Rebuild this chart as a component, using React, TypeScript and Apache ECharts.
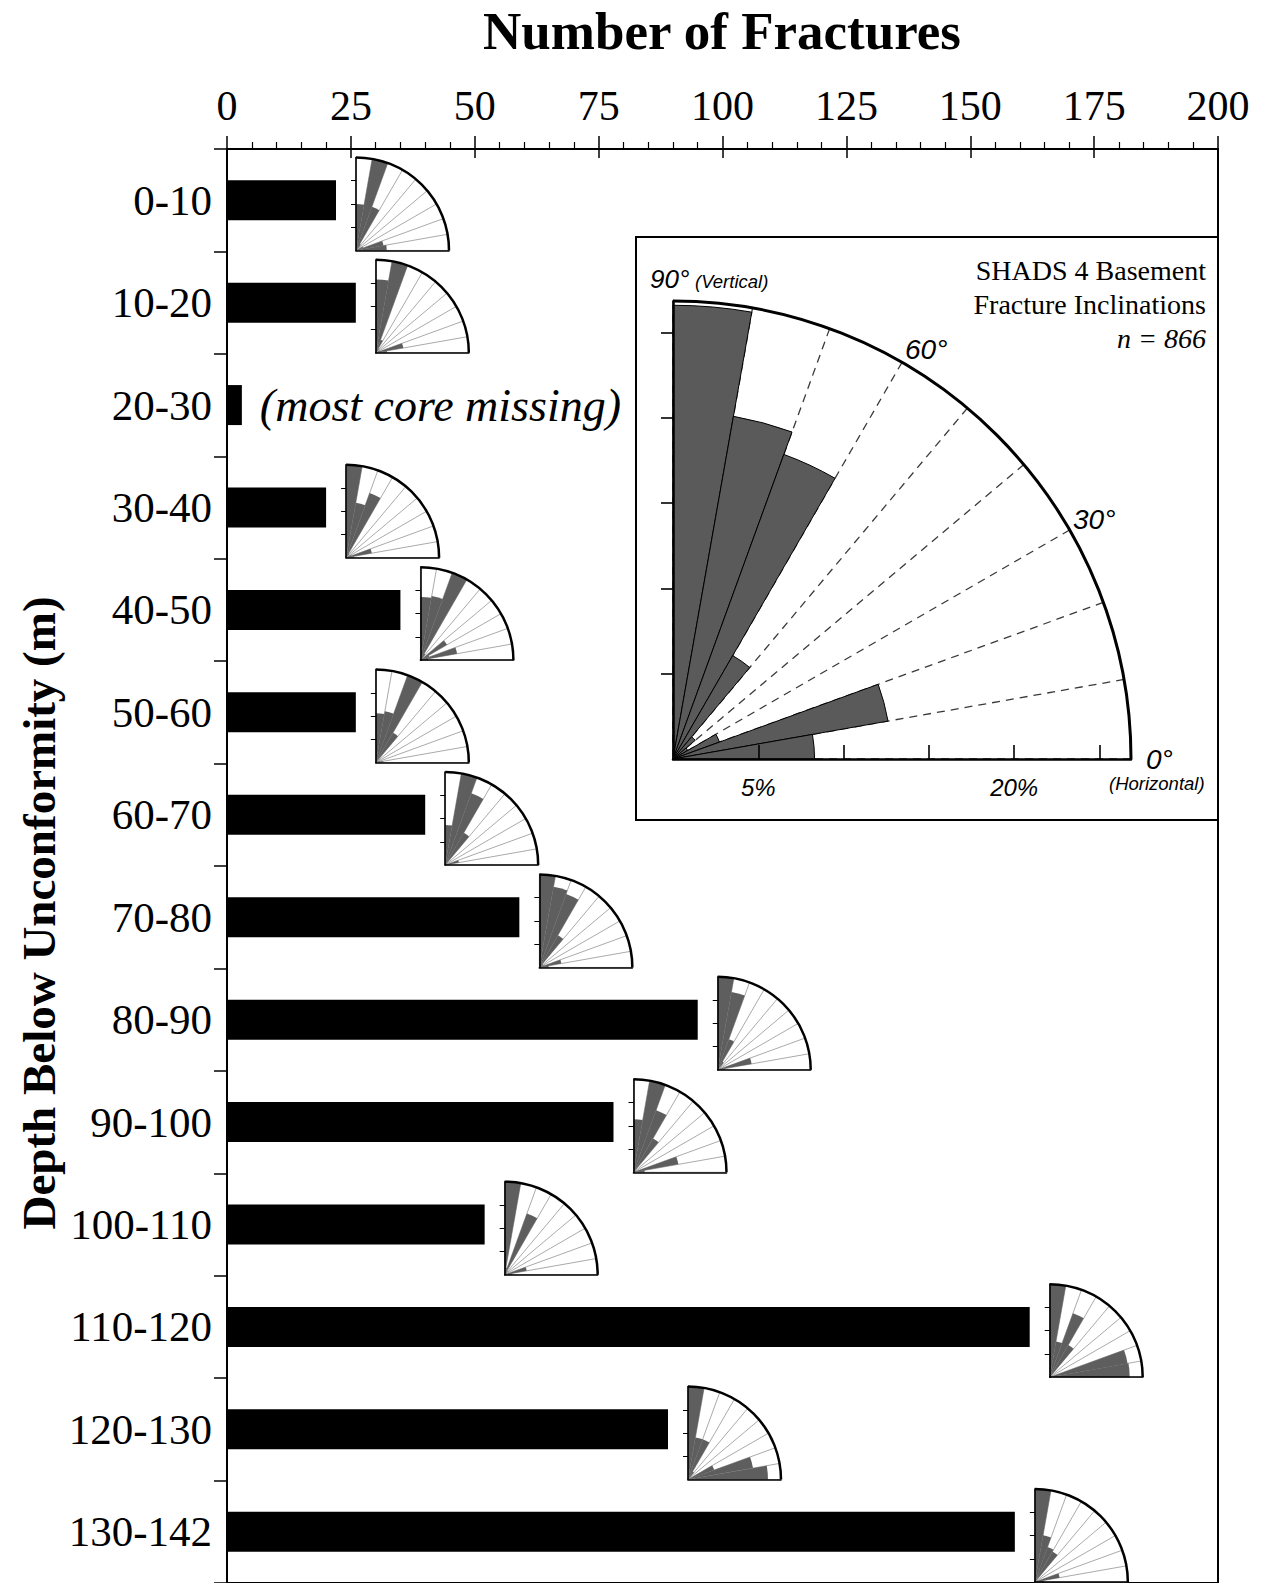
import React, { useEffect, useRef } from 'react';
import * as echarts from 'echarts';

const SERIF = '"Liberation Serif", "Times New Roman", serif';
const SANS = '"Liberation Sans", Arial, sans-serif';

// Fractures counted in each depth interval below the unconformity (m)
const depthIntervals = ['0-10', '10-20', '20-30', '30-40', '40-50', '50-60', '60-70', '70-80', '80-90', '90-100', '100-110', '110-120', '120-130', '130-142'];
const fractureCounts = [22, 26, 3, 20, 35, 26, 40, 59, 95, 78, 52, 162, 89, 159];
const countMax = 200;
const countStep = 25;
const coreNote = '(most core missing)';

// Inclination bins (degrees from horizontal)
const inclinationBins = ['0-10', '10-20', '20-30', '30-40', '40-50', '50-60', '60-70', '70-80', '80-90'];
// Whole core: percentage of fractures in each inclination bin
const allInclinationPct = [8.3, 12.8, 2.9, 1.0, 1.7, 7.0, 19.0, 20.4, 26.6];
const allInclinationMax = 26.85;
const pctTicks = [5, 10, 15, 20, 25];
const pctLabelled = [5, 20];

// Per-interval roses: bin length relative to each rose's radius (%)
const rose0to10 = [33, 30, 8, 0, 0, 8, 50, 100, 50];
const rose10to20 = [12, 30, 5, 0, 0, 5, 15, 100, 79];
const rose30to40 = [8, 28, 6, 0, 0, 5, 74, 60, 100];
const rose40to50 = [8, 40, 10, 33, 0, 8, 100, 70, 68];
const rose50to60 = [8, 5, 3, 0, 0, 37, 100, 56, 53];
const rose60to70 = [5, 15, 3, 0, 0, 40, 82, 100, 43];
const rose70to80 = [10, 24, 5, 0, 5, 40, 84, 88, 100];
const rose80to90 = [8, 37, 3, 0, 0, 10, 35, 85, 100];
const rose90to100 = [12, 49, 3, 0, 0, 42, 71, 100, 57];
const rose100to110 = [8, 24, 3, 0, 0, 5, 70, 8, 100];
const rose110to120 = [86, 85, 3, 0, 0, 40, 73, 39, 100];
const rose120to130 = [86, 71, 30, 0, 0, 10, 46, 46, 100];
const rose130to142 = [10, 27, 3, 0, 0, 38, 40, 51, 100];
const roseTicks = [25, 50, 75];

const intervalRoses: [string, number[]][] = [
  ['0-10', rose0to10],
  ['10-20', rose10to20],
  ['30-40', rose30to40],
  ['40-50', rose40to50],
  ['50-60', rose50to60],
  ['60-70', rose60to70],
  ['70-80', rose70to80],
  ['80-90', rose80to90],
  ['90-100', rose90to100],
  ['100-110', rose100to110],
  ['110-120', rose110to120],
  ['120-130', rose120to130],
  ['130-142', rose130to142],
];

const GRID = { left: 227, top: 149, width: 991, height: 1435 };
const INSET = { x: 636, y: 237, w: 582, h: 583, cx: 673, cy: 759, r: 458 };
const SMALL_R = 93;
const ROSE_GAP = 20;

function insetText(text: string, dx: number, dy: number, size: number, extra: any = {}) {
  return {
    type: 'text',
    x: INSET.cx + dx,
    y: INSET.cy + dy,
    z: 5,
    style: { text, fontFamily: SANS, fontStyle: 'italic', fontSize: size, fill: '#000', align: 'left', verticalAlign: 'middle', ...extra },
  };
}

function buildBaseOption(): any {
  const missingIdx = depthIntervals.indexOf('20-30');
  const barData = fractureCounts.map((v, i) =>
    i === missingIdx
      ? {
          value: v,
          label: {
            show: true,
            position: 'right',
            distance: 18,
            formatter: coreNote,
            fontFamily: SERIF,
            fontStyle: 'italic',
            fontSize: 46,
            color: '#000',
          },
        }
      : v
  );

  return {
    animation: false,
    backgroundColor: '#ffffff',
    grid: [
      { ...GRID, show: true, borderColor: '#000', borderWidth: 2, backgroundColor: 'transparent' },
      { ...GRID, show: false },
    ],
    xAxis: [
      {
        type: 'value',
        gridIndex: 0,
        position: 'top',
        min: 0,
        max: countMax,
        interval: countStep,
        axisLine: { show: true, lineStyle: { color: '#000', width: 2 } },
        axisTick: { show: true, length: 13, lineStyle: { color: '#000', width: 1.5 } },
        minorTick: { show: true, splitNumber: 5, length: 7, lineStyle: { color: '#000', width: 1.2 } },
        axisLabel: { fontFamily: SERIF, fontSize: 42, color: '#000', margin: 22 },
        splitLine: { show: false },
      },
      {
        type: 'value',
        gridIndex: 1,
        position: 'top',
        min: 0,
        max: countMax,
        interval: countStep,
        axisLine: { show: false },
        axisTick: { show: true, inside: true, length: 9, lineStyle: { color: '#000', width: 1.5 } },
        axisLabel: { show: false },
        splitLine: { show: false },
      },
    ],
    yAxis: [
      {
        type: 'category',
        gridIndex: 0,
        data: depthIntervals,
        inverse: true,
        axisLine: { show: true, lineStyle: { color: '#000', width: 2 } },
        axisTick: { show: true, length: 13, lineStyle: { color: '#000', width: 1.5 } },
        axisLabel: { fontFamily: SERIF, fontSize: 43, color: '#000', margin: 15 },
        splitLine: { show: false },
      },
      { type: 'category', gridIndex: 1, data: depthIntervals, inverse: true, show: false },
    ],
    series: [
      {
        id: 'counts',
        type: 'bar',
        xAxisIndex: 0,
        yAxisIndex: 0,
        data: barData,
        barWidth: 40,
        itemStyle: { color: '#000' },
        silent: true,
        z: 2,
      },
    ],
    graphic: [
      {
        type: 'text',
        x: 722,
        y: 31,
        style: {
          text: 'Number of Fractures',
          fontFamily: SERIF,
          fontWeight: 'bold',
          fontSize: 53,
          fill: '#000',
          align: 'center',
          verticalAlign: 'middle',
        },
      },
      {
        type: 'text',
        x: 39,
        y: 913,
        rotation: Math.PI / 2,
        style: {
          text: 'Depth Below Unconformity (m)',
          fontFamily: SERIF,
          fontWeight: 'bold',
          fontSize: 47,
          fill: '#000',
          align: 'center',
          verticalAlign: 'middle',
        },
      },
      {
        // inset frame (outline only, so the rose spokes underneath stay visible)
        type: 'rect',
        shape: { x: INSET.x, y: INSET.y, width: INSET.w, height: INSET.h },
        style: { fill: 'transparent', stroke: '#000', lineWidth: 2 },
        z: 1,
      },
      {
        type: 'text',
        x: 1206,
        y: 270,
        z: 5,
        style: { text: 'SHADS 4 Basement', fontFamily: SERIF, fontSize: 28, fill: '#000', align: 'right', verticalAlign: 'middle' },
      },
      {
        type: 'text',
        x: 1206,
        y: 304,
        z: 5,
        style: { text: 'Fracture Inclinations', fontFamily: SERIF, fontSize: 28, fill: '#000', align: 'right', verticalAlign: 'middle' },
      },
      {
        type: 'text',
        x: 1206,
        y: 338,
        z: 5,
        style: { text: 'n = 866', fontFamily: SERIF, fontStyle: 'italic', fontSize: 28, fill: '#000', align: 'right', verticalAlign: 'middle' },
      },
      insetText('90°', -23, -480, 26),
      insetText('(Vertical)', 22, -478, 18.5),
      insetText('60°', 232, -410, 28),
      insetText('30°', 400, -240, 28),
      insetText('0°', 473, 0, 28),
      insetText('(Horizontal)', 436, 24, 18.5),
    ],
  };
}

type RoseStyle = {
  max: number;
  fill: string;
  border: string;
  borderWidth: number;
  spoke: any;
  arcWidth: number;
  edgeWidth: number;
  leftTick: any;
  bottomTick: any;
  bottomLabel: any;
};

function addRose(
  acc: { polar: any[]; angleAxis: any[]; radiusAxis: any[]; series: any[] },
  cx: number,
  cy: number,
  r: number,
  values: number[],
  st: RoseStyle
) {
  const a = acc.polar.length;
  const b = a + 1;
  acc.polar.push({ center: [cx, cy], radius: [0, r] }, { center: [cx, cy], radius: [0, r] });

  // polar a: sectors, 90° at the left edge sweeping clockwise to 0°
  acc.angleAxis.push({
    polarIndex: a,
    type: 'category',
    data: inclinationBins.slice().reverse(),
    startAngle: 90,
    endAngle: 0,
    clockwise: true,
    boundaryGap: true,
    axisLine: { show: false },
    axisTick: { show: false, interval: 0 },
    axisLabel: { show: false, interval: 0 },
    splitLine: { show: true, interval: 0, lineStyle: st.spoke },
    z: 1,
  });
  acc.radiusAxis.push({
    polarIndex: a,
    type: 'value',
    min: 0,
    max: st.max,
    axisLine: { show: true, lineStyle: { color: '#000', width: st.edgeWidth } },
    axisTick: st.leftTick,
    axisLabel: { show: false },
    splitLine: { show: false },
    z: 3,
  });

  // polar b: outer arc and horizontal edge
  acc.angleAxis.push({
    polarIndex: b,
    type: 'value',
    min: 0,
    max: 90,
    startAngle: 0,
    endAngle: 90,
    clockwise: false,
    axisLine: { show: true, lineStyle: { color: '#000', width: st.arcWidth } },
    axisTick: { show: false },
    axisLabel: { show: false },
    splitLine: { show: false },
    z: 3,
  });
  acc.radiusAxis.push({
    polarIndex: b,
    type: 'value',
    min: 0,
    max: st.max,
    axisLine: { show: true, lineStyle: { color: '#000', width: st.edgeWidth } },
    axisTick: st.bottomTick,
    axisLabel: st.bottomLabel,
    splitLine: { show: false },
    z: 3,
  });

  acc.series.push({
    type: 'bar',
    coordinateSystem: 'polar',
    polarIndex: a,
    data: values.slice().reverse(),
    barCategoryGap: '0%',
    barGap: '0%',
    itemStyle: { color: st.fill, borderColor: st.border, borderWidth: st.borderWidth },
    silent: true,
    z: 2,
  });
}

export default function App() {
  const ref = useRef<HTMLDivElement>(null);

  useEffect(() => {
    document.body.style.margin = '0';
    const chart = echarts.init(ref.current!, null, { renderer: 'svg' });
    const base = buildBaseOption();
    chart.setOption(base);

    const y0 = chart.convertToPixel({ yAxisIndex: 0 }, depthIntervals[0]) as number;
    const y1 = chart.convertToPixel({ yAxisIndex: 0 }, depthIntervals[1]) as number;
    const band = y1 - y0;

    const acc = { polar: [] as any[], angleAxis: [] as any[], radiusAxis: [] as any[], series: [] as any[] };

    // Whole-core inset rose
    addRose(acc, INSET.cx, INSET.cy, INSET.r, allInclinationPct, {
      max: allInclinationMax,
      fill: '#5a5a5a',
      border: '#000',
      borderWidth: 1,
      spoke: { color: '#3a3a3a', width: 1.3, type: [8, 6] },
      arcWidth: 3,
      edgeWidth: 2.5,
      leftTick: { show: true, length: 12, customValues: pctTicks, lineStyle: { color: '#000', width: 1.6 } },
      bottomTick: { show: true, inside: true, length: 14, customValues: pctTicks, lineStyle: { color: '#000', width: 1.6 } },
      bottomLabel: {
        show: true,
        customValues: pctLabelled,
        formatter: (v: number) => (pctLabelled.indexOf(v) >= 0 ? v + '%' : ''),
        fontFamily: SANS,
        fontStyle: 'italic',
        fontSize: 24,
        color: '#000',
        verticalAlign: 'top',
        margin: -16,
      },
    });

    // One rose beside each depth interval's bar
    intervalRoses.forEach(([depth, values]) => {
      const idx = depthIntervals.indexOf(depth);
      const xEnd = chart.convertToPixel({ xAxisIndex: 0 }, fractureCounts[idx]) as number;
      const yc = chart.convertToPixel({ yAxisIndex: 0 }, depth) as number;
      addRose(acc, xEnd + ROSE_GAP, yc + band / 2 - 1, SMALL_R, values, {
        max: 100,
        fill: '#5e5e5e',
        border: 'transparent',
        borderWidth: 0,
        spoke: { color: '#a0a0a0', width: 0.9 },
        arcWidth: 2.5,
        edgeWidth: 1.6,
        leftTick: { show: true, inside: true, length: 5, customValues: roseTicks, lineStyle: { color: '#000', width: 1 } },
        bottomTick: { show: false },
        bottomLabel: { show: false },
      });
    });

    chart.setOption({
      polar: acc.polar,
      angleAxis: acc.angleAxis,
      radiusAxis: acc.radiusAxis,
      series: [base.series[0], ...acc.series],
    });

    return () => chart.dispose();
  }, []);

  return <div ref={ref} style={{ position: 'absolute', left: 0, top: 0, width: 1262, height: 1583 }} />;
}
